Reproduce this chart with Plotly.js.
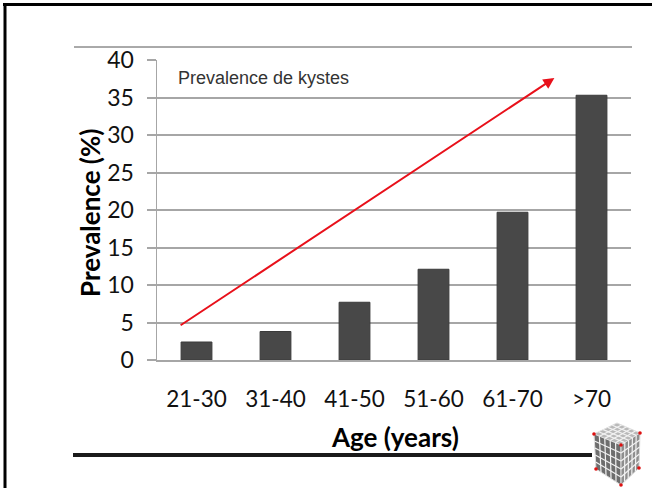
<!DOCTYPE html>
<html>
<head>
<meta charset="utf-8">
<script src="https://cdn.plot.ly/plotly-3.0.1.min.js"></script>
<style>
  html, body { margin: 0; padding: 0; background: #fff; }
  #chart { width: 652px; height: 488px; }
</style>
</head>
<body>
<div id="chart"></div>
<script>
// ---- data ----
const ageGroups = ["21-30", "31-40", "41-50", "51-60", "61-70", ">70"];
const prevalence = [2.4, 3.8, 7.7, 12.1, 19.7, 35.3];
const yTickValues = [0, 5, 10, 15, 20, 25, 30, 35, 40];
const trendStart = { x: -0.22, y: 4.5 };
const trendEnd = { x: 4.53, y: 37.6 };
const insetLabel = "Prevalence de kystes";
const xTitle = "Age (years)";
const yTitle = "Prevalence (%)";

// ---- layout helpers (plot area in pixels) ----
const W = 652, H = 488;
const PL = 157, PR = 631, PT = 60, PB = 360;
const px = v => (v - PL) / (PR - PL);
const py = v => (PB - v) / (PB - PT);

const grid = '#a6a6a6';
const font = 'Lato, "Open Sans", sans-serif';

const trace = {
  type: 'bar',
  x: ageGroups,
  y: prevalence,
  width: 0.39,
  marker: { color: '#484848', line: { color: '#3a3a3a', width: 1 } },
  hoverinfo: 'x+y'
};

// cube logo (decorative) in pixel coordinates
function poly(pts) {
  return 'M' + pts.map(p => px(p[0]) + ',' + py(p[1])).join(' L') + ' Z';
}
const cubeTop = [[594,434],[617,423],[640,433],[621,445]];
const cubeLeft = [[594,434],[621,445],[621,485],[596,469]];
const cubeRight = [[621,445],[640,433],[639,468],[621,485]];

const shapes = [
  // outer frame (top and left)
  { type: 'line', xref: 'paper', yref: 'paper', x0: px(3), x1: px(W), y0: py(4.5), y1: py(4.5), line: { color: '#000', width: 3 } },
  { type: 'line', xref: 'paper', yref: 'paper', x0: px(5), x1: px(5), y0: py(3), y1: py(H), line: { color: '#000', width: 3 } },
  // thin rule at top
  { type: 'line', xref: 'paper', yref: 'paper', x0: px(74), x1: px(632), y0: py(47), y1: py(47), line: { color: '#555', width: 1 } },
  // thick rule at bottom
  { type: 'line', xref: 'paper', yref: 'paper', x0: px(73), x1: px(592), y0: py(455), y1: py(455), line: { color: '#1a1a1a', width: 4 } },
  // cube faces
  { type: 'path', xref: 'paper', yref: 'paper', path: poly(cubeTop), fillcolor: '#b9b9b9', line: { color: '#ddd', width: 1 } },
  { type: 'path', xref: 'paper', yref: 'paper', path: poly(cubeLeft), fillcolor: '#6d6d6d', line: { color: '#ddd', width: 1 } },
  { type: 'path', xref: 'paper', yref: 'paper', path: poly(cubeRight), fillcolor: '#8e8e8e', line: { color: '#ddd', width: 1 } }
];
// mosaic grid lines on cube faces
function lerp(a, b, t) { return [a[0] + (b[0]-a[0])*t, a[1] + (b[1]-a[1])*t]; }
function faceGrid(f) {
  for (let i = 1; i < 5; i++) {
    const t = i / 5;
    const p1 = lerp(f[0], f[1], t), p2 = lerp(f[3], f[2], t);
    const q1 = lerp(f[0], f[3], t), q2 = lerp(f[1], f[2], t);
    shapes.push({ type: 'path', xref: 'paper', yref: 'paper', path: 'M' + px(p1[0]) + ',' + py(p1[1]) + ' L' + px(p2[0]) + ',' + py(p2[1]), line: { color: '#f2f2f2', width: 1.2 } });
    shapes.push({ type: 'path', xref: 'paper', yref: 'paper', path: 'M' + px(q1[0]) + ',' + py(q1[1]) + ' L' + px(q2[0]) + ',' + py(q2[1]), line: { color: '#f2f2f2', width: 1.2 } });
  }
}
faceGrid(cubeTop); faceGrid(cubeLeft); faceGrid(cubeRight);
// red corner dots
[[594,434],[640,433],[621,445],[621,485],[596,469],[639,468]].forEach(p => {
  shapes.push({ type: 'circle', xref: 'paper', yref: 'paper', x0: px(p[0]-1.8), x1: px(p[0]+1.8), y0: py(p[1]-1.8), y1: py(p[1]+1.8), fillcolor: '#d11', line: { width: 0 } });
});

const layout = {
  width: W, height: H,
  margin: { l: PL, r: W - PR, t: PT, b: H - PB, pad: 0 },
  paper_bgcolor: '#fff',
  plot_bgcolor: '#fff',
  showlegend: false,
  xaxis: {
    type: 'category',
    categoryorder: 'array',
    categoryarray: ageGroups,
    range: [-0.5, 5.5],
    showgrid: false,
    zeroline: false,
    showline: true,
    linecolor: grid,
    linewidth: 2,
    ticks: '',
    ticklabelstandoff: 18,
    tickfont: { family: font, size: 22.5, color: '#111' },
    fixedrange: true
  },
  yaxis: {
    range: [0, 40],
    tickvals: yTickValues,
    ticktext: yTickValues.map(String),
    showgrid: true,
    gridcolor: grid,
    gridwidth: 2,
    zeroline: false,
    showline: true,
    linecolor: grid,
    linewidth: 1.5,
    ticks: 'outside',
    ticklen: 9,
    tickwidth: 2,
    tickcolor: grid,
    ticklabelstandoff: 8,
    tickfont: { family: font, size: 23, color: '#111' },
    fixedrange: true
  },
  shapes: shapes,
  annotations: [
    {
      xref: 'x', yref: 'y', axref: 'x', ayref: 'y',
      x: trendEnd.x, y: trendEnd.y, ax: trendStart.x, ay: trendStart.y,
      text: '', showarrow: true, arrowhead: 2, arrowsize: 1.1, arrowwidth: 2,
      arrowcolor: '#e8101a'
    },
    {
      xref: 'paper', yref: 'paper', x: px(176), y: py(78), xanchor: 'left', yanchor: 'middle',
      text: insetLabel, showarrow: false,
      font: { family: 'Liberation Sans, Arial, sans-serif', size: 18, color: '#333' }
    },
    {
      xref: 'paper', yref: 'paper', x: px(90), y: py(213), xanchor: 'center', yanchor: 'middle',
      textangle: -90, text: '<b>' + yTitle + '</b>', showarrow: false,
      font: { family: font, size: 26, color: '#000' }
    },
    {
      xref: 'paper', yref: 'paper', x: px(395), y: py(437), xanchor: 'center', yanchor: 'middle',
      text: '<b>' + xTitle + '</b>', showarrow: false,
      font: { family: font, size: 26, color: '#000' }
    }
  ]
};

Plotly.newPlot('chart', [trace], layout, { staticPlot: true, displayModeBar: false });
</script>
</body>
</html>
